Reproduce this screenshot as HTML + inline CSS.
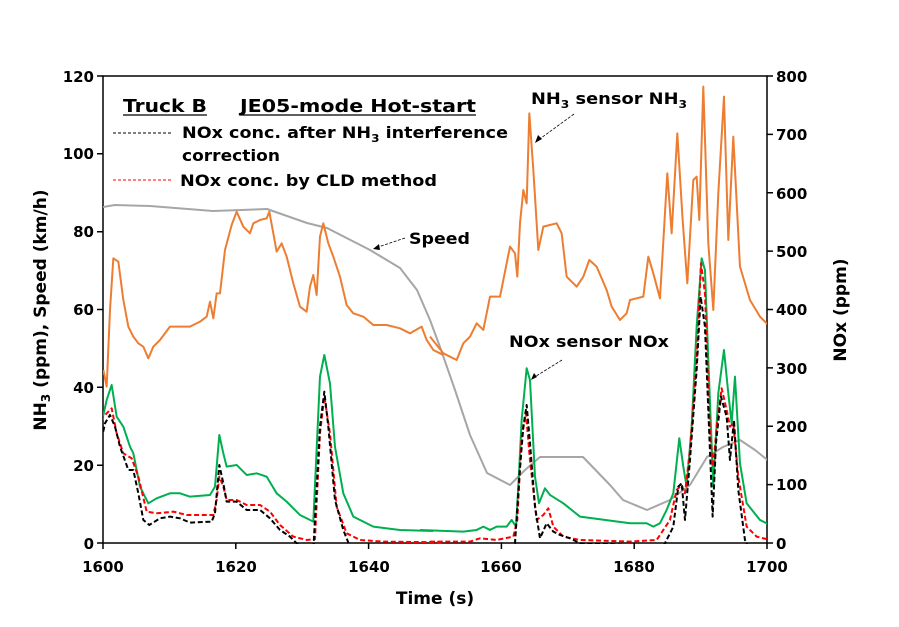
<!DOCTYPE html>
<html><head><meta charset="utf-8"><style>
body{margin:0;background:#fff;}
svg{display:block;font-family:"DejaVu Sans","Liberation Sans",sans-serif;font-weight:bold;}
</style></head><body>
<svg width="899" height="627" viewBox="0 0 899 627" xmlns="http://www.w3.org/2000/svg">
<defs><clipPath id="c"><rect x="103" y="60" width="664" height="484"/></clipPath></defs>
<g stroke="#000" stroke-width="1.5" fill="none">
<rect x="103" y="76" width="664" height="467"/>
<path d="M97 543H103M97 465.2H103M97 387.3H103M97 309.5H103M97 231.7H103M97 153.8H103M97 76H103"/>
<path d="M767 543H773M767 484.6H773M767 426.3H773M767 367.9H773M767 309.5H773M767 251.1H773M767 192.8H773M767 134.4H773M767 76H773"/>
<path d="M103 543V549M235.8 543V549M368.6 543V549M501.4 543V549M634.2 543V549M767 543V549"/>
</g>
<g font-size="15" text-anchor="end">
<text x="94" y="549">0</text><text x="94" y="471">20</text><text x="94" y="393">40</text><text x="94" y="315">60</text><text x="94" y="237">80</text><text x="94" y="159">100</text><text x="94" y="82">120</text>
</g>
<g font-size="15" text-anchor="start">
<text x="776" y="549">0</text><text x="776" y="490">100</text><text x="776" y="432">200</text><text x="776" y="374">300</text><text x="776" y="315">400</text><text x="776" y="257">500</text><text x="776" y="199">600</text><text x="776" y="140">700</text><text x="776" y="82">800</text>
</g>
<g font-size="15" text-anchor="middle">
<text x="103" y="572">1600</text><text x="236" y="572">1620</text><text x="369" y="572">1640</text><text x="501" y="572">1660</text><text x="634" y="572">1680</text><text x="767" y="572">1700</text>
</g>
<text x="435" y="604" font-size="17" text-anchor="middle">Time (s)</text>
<text transform="translate(46,310) rotate(-90)" font-size="17" text-anchor="middle">NH<tspan font-size="12" dy="4">3</tspan><tspan dy="-4"> (ppm), Speed (km/h)</tspan></text>
<text transform="translate(846,310) rotate(-90)" font-size="17" text-anchor="middle">NOx (ppm)</text>

<g clip-path="url(#c)" fill="none" stroke-linejoin="round">
<polyline stroke="#a6a6a6" stroke-width="2" points="103,207 115,205 150,206 213,211 267,209 307,223 327,228 370,250 400,268 417,290 430,320 440,347 455,390 470,435 487,473 510,485 525,470 540,457 583,457 610,485 623,500 647,510 670,500 690,485 707,457 723,447 740,440 755,450 770,462"/>
<g transform="translate(100,200) scale(0.3333)"><polyline stroke="#ed7d31" stroke-width="6" points="10,510 20,560 30,330 40,175 55,185 70,300 85,380 100,410 115,430 130,440 145,475 160,440 180,420 210,380 240,380 270,380 300,365 320,350 330,305 340,355 350,280 360,280 375,150 395,75 410,35 430,80 450,100 460,70 480,60 500,55 508,35 520,100 530,155 545,130 560,170 580,250 600,320 620,335 630,260 640,225 650,285 660,110 670,70 685,130 700,170 720,230 740,315 760,340 790,350 820,375 860,375 900,385 930,400 965,380 980,420 1000,450 1020,460 1030,465"/></g>
<g transform="translate(430,60) scale(0.3333)"><polyline stroke="#ed7d31" stroke-width="6" points="0,830 40,880 80,900 100,850 120,830 140,790 160,810 180,710 210,710 240,560 255,580 262,650 270,490 280,390 290,430 298,160 310,330 325,570 340,500 380,490 395,520 410,650 440,680 460,650 478,600 500,620 530,690 545,740 570,780 590,760 600,720 640,710 655,590 670,640 690,715 712,340 725,520 742,220 758,480 772,670 790,360 800,350 808,480 820,80 835,550 850,750 865,400 882,110 895,540 910,230 930,620 960,720 990,770 1010,790 1020,795"/></g>
<g transform="translate(100,200) scale(0.3333)"><polyline stroke="#00b050" stroke-width="6" points="0,690 20,600 35,555 50,650 70,680 90,740 100,760 120,860 145,910 170,895 210,880 240,880 270,890 330,885 345,860 358,705 370,760 380,800 410,795 440,825 470,820 500,830 530,880 560,905 600,945 640,965 660,530 673,465 690,550 705,740 730,880 760,950 820,980 900,990 1000,993"/></g>
<g transform="translate(430,60) scale(0.3333)"><polyline stroke="#00b050" stroke-width="6" points="-30,1410 100,1415 140,1410 160,1400 180,1410 200,1400 230,1400 245,1380 258,1400 265,1280 275,1080 290,925 300,960 315,1250 327,1330 345,1285 360,1305 400,1330 450,1370 600,1390 650,1390 670,1400 690,1390 710,1350 730,1300 748,1135 760,1220 770,1280 785,1100 800,800 815,595 825,630 835,900 850,1280 865,1000 882,870 895,1000 905,1090 915,950 930,1210 950,1330 990,1380 1020,1395"/></g>
<g transform="translate(100,200) scale(0.3333)"><polyline stroke="#ff0000" stroke-width="6" stroke-dasharray="15,8" points="0,660 35,625 50,700 70,760 95,775 115,830 140,935 170,940 220,935 260,945 340,945 350,900 358,830 370,860 380,900 410,900 440,915 480,915 510,935 540,975 580,1010 620,1020 645,1018 660,700 673,590 690,700 710,920 740,1000 780,1020 850,1025 1030,1027"/></g>
<g transform="translate(430,60) scale(0.3333)"><polyline stroke="#ff0000" stroke-width="6" stroke-dasharray="15,8" points="0,1445 120,1445 150,1435 200,1440 250,1430 262,1380 275,1130 288,1060 300,1200 320,1380 340,1365 355,1345 370,1400 400,1430 450,1440 600,1445 680,1440 720,1380 740,1290 755,1275 765,1300 780,1170 800,900 813,610 825,700 840,1120 850,1220 860,1100 875,985 890,1050 900,1100 910,1090 925,1250 950,1400 980,1430 1020,1440"/></g>
<g transform="translate(100,200) scale(0.3333)"><polyline stroke="#000" stroke-width="6" stroke-dasharray="15,8" points="0,740 15,670 30,645 45,680 60,740 85,810 100,810 115,880 130,960 148,975 180,955 210,950 240,955 270,968 335,965 345,940 358,795 370,850 380,905 410,905 440,930 480,930 510,955 540,990 570,1010 595,1035 640,1050 660,680 673,575 685,680 705,900 730,990 750,1040 800,1060"/></g>
<g transform="translate(430,60) scale(0.3333)"><polyline stroke="#000" stroke-width="6" stroke-dasharray="15,8" points="240,1470 255,1450 268,1250 280,1100 290,1035 300,1150 315,1340 330,1435 350,1390 370,1415 390,1425 420,1435 450,1450 700,1460 730,1400 745,1280 755,1270 765,1380 780,1200 800,930 812,710 825,800 835,1050 848,1370 858,1150 873,1010 890,1070 900,1200 912,1080 925,1290 945,1440 960,1470"/></g>
</g>

<text x="123" y="112" font-size="18" textLength="84" lengthAdjust="spacingAndGlyphs">Truck B</text>
<line x1="123" y1="115" x2="207" y2="115" stroke="#000" stroke-width="1.3"/>
<text x="240" y="112" font-size="18" textLength="236" lengthAdjust="spacingAndGlyphs">JE05-mode Hot-start</text>
<line x1="240" y1="115" x2="476" y2="115" stroke="#000" stroke-width="1.3"/>
<line x1="113" y1="133" x2="171" y2="133" stroke="#000" stroke-width="1" stroke-dasharray="3,2"/>
<text x="182" y="138" font-size="16" textLength="326" lengthAdjust="spacingAndGlyphs">NOx conc. after NH<tspan font-size="11" dy="4">3</tspan><tspan dy="-4"> interference</tspan></text>
<text x="182" y="161" font-size="16" textLength="98" lengthAdjust="spacingAndGlyphs">correction</text>
<line x1="113" y1="180" x2="171" y2="180" stroke="#ff0000" stroke-width="1" stroke-dasharray="3,2"/>
<text x="180" y="186" font-size="16" textLength="257" lengthAdjust="spacingAndGlyphs">NOx conc. by CLD method</text>
<text x="531" y="104" font-size="16" textLength="156" lengthAdjust="spacingAndGlyphs">NH<tspan font-size="11" dy="4">3</tspan><tspan dy="-4"> sensor NH</tspan><tspan font-size="11" dy="4">3</tspan></text>
<text x="409" y="244" font-size="16" textLength="61" lengthAdjust="spacingAndGlyphs">Speed</text>
<text x="509" y="347" font-size="16" textLength="160" lengthAdjust="spacingAndGlyphs">NOx sensor NOx</text>
<g stroke="#000" stroke-width="0.8" stroke-dasharray="3,1.5" fill="none">
<line x1="574" y1="114" x2="537" y2="141"/>
<line x1="405" y1="238" x2="375" y2="248"/>
<line x1="562" y1="360" x2="533" y2="378"/>
</g>
<g fill="#000">
<polygon points="535,143 538,135 542,139"/>
<polygon points="373,249 379,244 380,250"/>
<polygon points="531,380 534,373 537,377"/>
</g>
</svg>
</body></html>
